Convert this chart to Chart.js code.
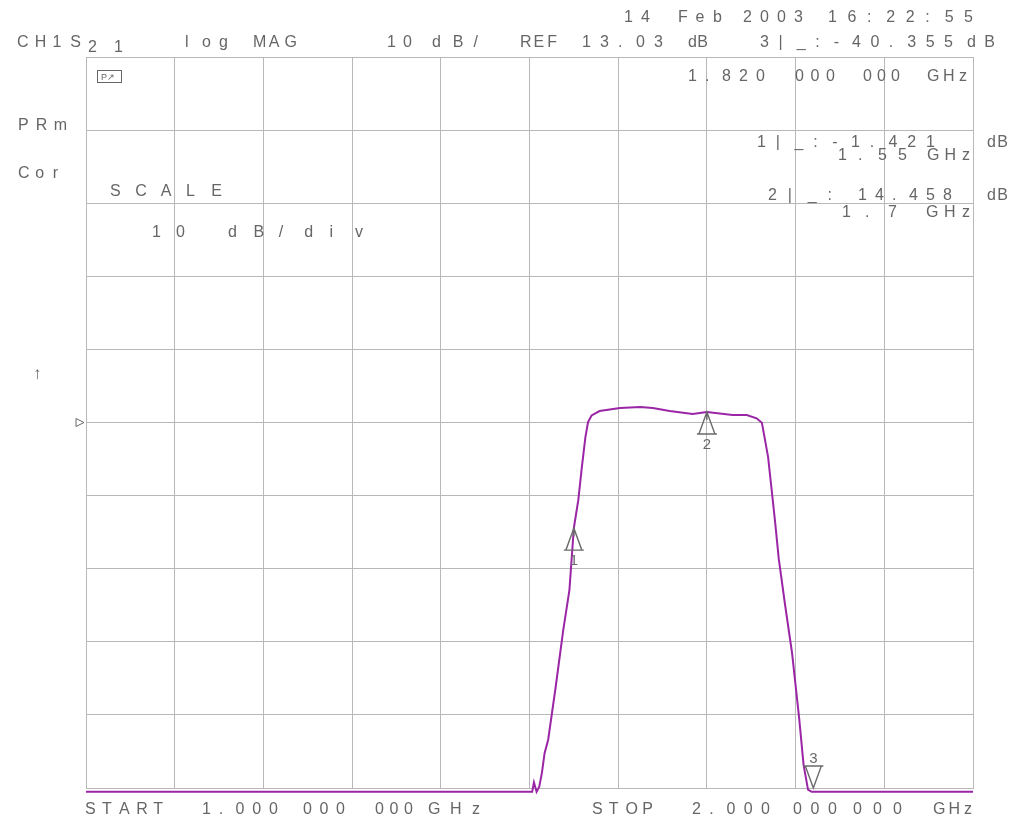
<!DOCTYPE html>
<html><head><meta charset="utf-8">
<script src="https://cdn.jsdelivr.net/npm/chart.js@4/dist/chart.umd.min.js"></script>
<style>html,body{margin:0;padding:0;background:#fff}#c{display:block}</style>
</head><body>
<canvas id="c" width="1013" height="825"></canvas>
<script>
// ---- data ----
const freqGHz = [1.000, 1.503, 1.505, 1.508, 1.511, 1.514, 1.517, 1.521, 1.529, 1.538, 1.545, 1.550, 1.555, 1.559, 1.563, 1.566, 1.570, 1.579, 1.602, 1.625, 1.639, 1.658, 1.684, 1.700, 1.729, 1.745, 1.756, 1.762, 1.765, 1.769, 1.773, 1.777, 1.781, 1.788, 1.796, 1.804, 1.809, 1.814, 1.818, 2.000];
const s21dB  = [-37.5, -37.5, -36.2, -37.5, -36.8, -34.9, -32.2, -30.4, -23.6, -15.4, -9.9, -1.4, 2.4, 6.9, 11.0, 13.1, 14.0, 14.6, 15.0, 15.15, 15.0, 14.6, 14.2, 14.46, 14.05, 14.05, 13.6, 13.0, 11.0, 8.3, 3.8, -0.7, -5.6, -11.8, -18.5, -27.4, -33.8, -37.2, -37.5, -37.5];
const markerFreqGHz = [1.55, 1.7, 1.82];
const markerDb = [-1.421, 14.458, -40.355];
const markerLabels = ['1', '2', '3'];
const xTicks = [1.0, 1.1, 1.2, 1.3, 1.4, 1.5, 1.6, 1.7, 1.8, 1.9, 2.0];
const yTicks = [-36.97, -26.97, -16.97, -6.97, 3.03, 13.03, 23.03, 33.03, 43.03, 53.03, 63.03];
const refLevelDb = 13.03;

// ---- text annotations: [text, xStart, xEnd, baseline] ----
const labels = [
  ['14', 624, 650, 22], ['Feb', 678, 722, 22], ['2003', 743, 803, 22], ['16:22:55', 828, 973, 22],
  ['CH1S', 17, 81, 47], ['21', 88, 123, 52], ['log', 185, 228, 47], ['MAG', 253, 297, 47],
  ['10', 387, 412, 47], ['dB/', 432, 478, 47], ['REF', 520, 557, 47], ['13.03', 582, 663, 47],
  ['dB', 688, 708, 47], ['3|_:-40.355', 760, 953, 47], ['dB', 967, 995, 47],
  ['PRm', 18, 67, 130], ['Cor', 18, 58, 178], ['SCALE', 110, 222, 196],
  ['10', 152, 185, 237], ['dB/div', 228, 363, 237],
  ['1.820', 688, 765, 81], ['000', 795, 835, 81], ['000', 863, 900, 81], ['GHz', 927, 967, 81],
  ['1|_:-1.421', 757, 935, 147], ['dB', 987, 1008, 147],
  ['1.55', 838, 907, 160], ['GHz', 927, 970, 160],
  ['2|_:', 768, 832, 200], ['14.458', 858, 952, 200], ['dB', 987, 1008, 200],
  ['1.7', 842, 897, 217], ['GHz', 926, 970, 217],
  ['START', 85, 163, 814], ['1.000', 202, 278, 814], ['000', 303, 345, 814], ['000', 375, 413, 814], ['GHz', 428, 480, 814],
  ['STOP', 592, 653, 814], ['2.000', 692, 770, 814], ['000', 793, 837, 814], ['000', 853, 902, 814], ['GHz', 933, 972, 814]
];

const TEXT = '#666666', GRID = '#b8b8b8', TRACE = '#9a26a6', MARK = '#6a6a6a';
const FONT = '"Liberation Sans", Arial, sans-serif';

function spaced(ctx, t, x0, x1, yb) {
  const ch = [...t];
  if (ch.length === 1) { ctx.fillText(t, x0, yb); return; }
  const wl = ctx.measureText(ch[ch.length - 1]).width;
  const pitch = (x1 - x0 - wl) / (ch.length - 1);
  ch.forEach((c, i) => ctx.fillText(c, x0 + i * pitch, yb));
}

const annotPlugin = {
  id: 'annot',
  afterDraw(chart) {
    const ctx = chart.ctx;
    ctx.save();
    ctx.fillStyle = TEXT;
    ctx.font = '16px ' + FONT;
    ctx.textBaseline = 'alphabetic';
    ctx.textAlign = 'left';
    labels.forEach(([t, a, b, y]) => spaced(ctx, t, a, b, y));
    // arrow at left
    ctx.font = '17px ' + FONT;
    ctx.fillText('\u2191', 33, 379);
    // small status icon
    ctx.strokeStyle = TEXT; ctx.lineWidth = 1;
    ctx.strokeRect(97.5, 70.5, 24, 12);
    ctx.font = '9px ' + FONT;
    ctx.fillText('P\u2197', 101, 80);
    // reference level marker
    const ys = chart.scales.y;
    const yr = ys.getPixelForValue(refLevelDb);
    ctx.beginPath();
    ctx.moveTo(76, yr - 4); ctx.lineTo(76, yr + 4); ctx.lineTo(84, yr); ctx.closePath();
    ctx.stroke();
    ctx.restore();
  },
  afterDatasetsDraw(chart) {
    const ctx = chart.ctx, xs = chart.scales.x, ys = chart.scales.y;
    ctx.save();
    ctx.strokeStyle = MARK; ctx.fillStyle = MARK; ctx.lineWidth = 1.4;
    ctx.font = '15px ' + FONT; ctx.textAlign = 'center'; ctx.textBaseline = 'alphabetic';
    markerFreqGHz.forEach((f, i) => {
      const px = xs.getPixelForValue(f);
      const v = markerDb[i];
      const below = v < ys.min;
      const py = ys.getPixelForValue(Math.max(ys.min, Math.min(ys.max, v)));
      ctx.beginPath();
      if (!below) {
        ctx.moveTo(px, py); ctx.lineTo(px - 8, py + 22); ctx.lineTo(px + 8, py + 22); ctx.closePath();
        ctx.moveTo(px - 10, py + 22); ctx.lineTo(px + 10, py + 22);
        ctx.moveTo(px, py); ctx.lineTo(px, py + 8);
        ctx.stroke();
        ctx.fillText(markerLabels[i], px, py + 37);
      } else {
        ctx.moveTo(px, py); ctx.lineTo(px - 8, py - 22); ctx.lineTo(px + 8, py - 22); ctx.closePath();
        ctx.moveTo(px - 10, py - 22); ctx.lineTo(px + 10, py - 22);
        ctx.stroke();
        ctx.fillText(markerLabels[i], px, py - 25);
      }
    });
    ctx.restore();
  }
};

new Chart(document.getElementById('c'), {
  type: 'line',
  data: {
    datasets: [{
      data: freqGHz.map((f, i) => ({ x: f, y: s21dB[i] })),
      borderColor: TRACE, borderWidth: 2, pointRadius: 0, tension: 0, fill: false,
      clip: { left: 2, top: 2, right: 2, bottom: 8 }
    }]
  },
  options: {
    responsive: false, animation: false, devicePixelRatio: 1,
    layout: { padding: { left: 86, top: 57, right: 40, bottom: 37 } },
    plugins: { legend: { display: false }, tooltip: { enabled: false } },
    scales: {
      x: {
        type: 'linear', min: 1, max: 2,
        afterBuildTicks: s => { s.ticks = xTicks.map(v => ({ value: v })); },
        ticks: { display: false },
        grid: { color: GRID, lineWidth: 1, drawTicks: false },
        border: { color: GRID, width: 1 }
      },
      y: {
        type: 'linear', min: yTicks[0], max: yTicks[yTicks.length - 1],
        afterBuildTicks: s => { s.ticks = yTicks.map(v => ({ value: v })); },
        ticks: { display: false },
        grid: { color: GRID, lineWidth: 1, drawTicks: false },
        border: { color: GRID, width: 1 }
      }
    }
  },
  plugins: [annotPlugin]
});
</script>
</body></html>
